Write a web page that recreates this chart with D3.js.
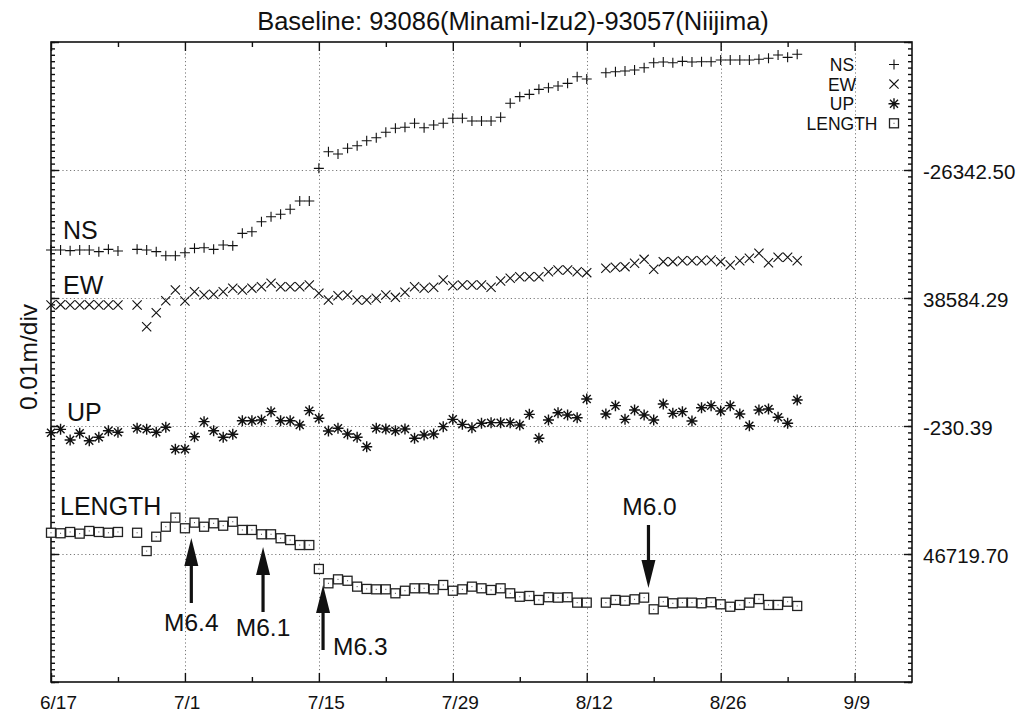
<!DOCTYPE html>
<html>
<head>
<meta charset="utf-8">
<script src="https://cdn.jsdelivr.net/npm/d3@7"></script>
<style>
  body { margin: 0; background: #fff; }
  svg { display: block; }
  text { font-family: "Liberation Sans", Arial, Helvetica, sans-serif; fill: #111; }
</style>
</head>
<body>
<svg id="chart" width="1032" height="717"></svg>
<script>
// Daily GPS solutions, 2000 (no solution on 6/25 and 8/13)
const dates = [
  "06-17","06-18","06-19","06-20","06-21","06-22","06-23","06-24",
  "06-26","06-27","06-28","06-29","06-30",
  "07-01","07-02","07-03","07-04","07-05","07-06","07-07","07-08","07-09","07-10",
  "07-11","07-12","07-13","07-14","07-15","07-16","07-17","07-18","07-19","07-20",
  "07-21","07-22","07-23","07-24","07-25","07-26","07-27","07-28","07-29","07-30","07-31",
  "08-01","08-02","08-03","08-04","08-05","08-06","08-07","08-08","08-09","08-10","08-11","08-12",
  "08-14","08-15","08-16","08-17","08-18","08-19","08-20","08-21","08-22","08-23","08-24","08-25",
  "08-26","08-27","08-28","08-29","08-30","08-31",
  "09-01","09-02","09-03"
];

// Deviations in mm from each component's reference value
const nsDev = [
  -6.25,-6.25,-6.30,-6.25,-6.25,-6.38,-6.20,-6.33,
  -6.20,-6.25,-6.38,-6.70,-6.70,
  -6.46,-6.12,-6.07,-6.20,-5.86,-5.91,-4.95,-4.82,-4.04,-3.65,
  -3.46,-3.07,-2.42,-2.42,0.13,1.43,1.25,1.70,1.90,2.29,
  2.52,2.95,3.26,3.34,3.65,3.30,3.52,3.65,4.04,4.04,3.83,
  3.83,3.83,4.12,5.21,5.73,5.91,6.30,6.43,6.56,6.77,7.29,7.11,
  7.60,7.68,7.73,7.81,7.99,8.38,8.44,8.38,8.49,8.44,8.46,8.46,
  8.59,8.59,8.59,8.59,8.65,8.73,
  8.98,8.80,9.04
];
const ewDev = [
  -0.55,-0.52,-0.55,-0.55,-0.52,-0.55,-0.55,-0.55,
  -0.55,-2.24,-1.15,-0.21,0.63,
  -0.23,0.49,0.23,0.29,0.49,0.76,0.63,0.76,0.88,1.15,
  0.88,0.88,0.88,1.02,0.37,-0.16,0.18,0.23,-0.16,-0.16,
  -0.02,0.23,0.05,0.45,0.88,0.76,0.84,1.41,0.96,1.02,1.02,
  1.02,0.84,1.33,1.54,1.66,1.66,1.66,2.05,2.19,2.19,2.05,1.98,
  2.32,2.40,2.45,2.71,3.02,2.24,2.84,2.84,2.91,2.91,2.91,2.97,
  2.84,2.58,2.91,3.10,3.49,2.76,
  3.18,3.18,2.91
];
const upDev = [
  -0.52,-0.26,-1.09,-0.57,-1.15,-0.88,-0.37,-0.49,
  -0.18,-0.26,-0.49,-0.10,-1.82,
  -1.82,-0.84,0.34,-0.37,-0.88,-0.65,0.41,0.41,0.47,1.12,
  0.41,0.41,0.08,1.20,0.60,-0.39,-0.18,-0.63,-0.88,-1.62,
  -0.18,-0.23,-0.37,-0.23,-0.96,-0.70,-0.63,-0.05,0.52,0.13,-0.13,
  0.21,0.26,0.26,0.26,0.08,0.91,-0.96,0.47,1.04,0.86,0.65,2.11,
  0.94,1.59,0.52,1.25,0.86,0.47,1.72,0.99,1.12,0.39,1.43,1.59,
  1.17,1.59,0.94,0.02,1.25,1.33,
  0.68,0.21,2.03
];
const lengthDev = [
  1.66,1.62,1.72,1.59,1.80,1.72,1.66,1.72,
  1.66,0.23,1.35,2.13,2.84,
  2.01,2.45,2.13,2.40,2.21,2.52,1.88,1.88,1.54,1.54,
  1.23,1.09,0.70,0.70,-1.17,-2.29,-1.98,-2.09,-2.55,-2.73,
  -2.76,-2.76,-3.07,-2.87,-2.68,-2.68,-2.76,-2.42,-2.87,-2.76,-2.55,
  -2.68,-2.81,-2.68,-3.07,-3.34,-3.28,-3.59,-3.38,-3.41,-3.38,-3.80,-3.80,
  -3.80,-3.59,-3.65,-3.54,-3.41,-4.32,-3.73,-3.85,-3.80,-3.80,-3.85,-3.77,
  -3.93,-4.12,-3.98,-3.80,-3.52,-3.98,
  -3.98,-3.73,-4.06
];

const seriesNames = ["NS", "EW", "UP", "LENGTH"];
const referenceLabels = ["-26342.50", "38584.29", "-230.39", "46719.70"];
const xTickLabels = ["6/17", "7/1", "7/15", "7/29", "8/12", "8/26", "9/9"];

// Earthquakes marked under the baseline-length record
const eventNames = ["M6.4", "M6.1", "M6.3", "M6.0"];
const eventTimes = ["2000-07-01T16:01", "2000-07-09T03:57", "2000-07-15T10:30", "2000-08-18T10:52"];

// ---------------------------------------------------------------
const svg = d3.select("#chart");
const L = 51, R = 912, T = 42, B = 682;
const ink = "#111";

const parseDay = d3.utcParse("%Y-%m-%d");
const parseTime = d3.utcParse("%Y-%m-%dT%H:%M");
const dayOf = s => parseDay("2000-" + s);

const x = d3.scaleUtc()
  .domain([parseDay("2000-06-17"), parseDay("2000-09-15")])
  .range([L, R]);

// vertical axis in mm, five 10 mm divisions; each series sits on its own division line
const y = d3.scaleLinear().domain([0, 50]).range([B, T]);
const baseLevel = { NS: 40, EW: 30, UP: 20, LENGTH: 10 };
const seriesDev = { NS: nsDev, EW: ewDev, UP: upDev, LENGTH: lengthDev };

const majorDates = xTickLabels.map(s => {
  const [m, d] = s.split("/").map(Number);
  return new Date(Date.UTC(2000, m - 1, d));
});
const minorDates = majorDates.map(d => d3.utcDay.offset(d, 7)).filter(d => d < x.domain()[1]);

// ---- grid ----
const grid = svg.append("g").attr("stroke", "#7a7a7a").attr("stroke-width", 1)
  .attr("stroke-dasharray", "1.2,2.6");
grid.selectAll("line.gx").data(majorDates.slice(1))
  .join("line").attr("class", "gx")
  .attr("x1", d => Math.round(x(d)) + 0.5).attr("x2", d => Math.round(x(d)) + 0.5)
  .attr("y1", T).attr("y2", B);
grid.selectAll("line.gy").data(seriesNames)
  .join("line").attr("class", "gy")
  .attr("x1", L).attr("x2", R)
  .attr("y1", d => Math.round(y(baseLevel[d])) + 0.5)
  .attr("y2", d => Math.round(y(baseLevel[d])) + 0.5);

// ---- axes (ticks point inward) ----
function styleAxis(g) {
  g.select(".domain").remove();
  g.selectAll(".tick line").attr("stroke", ink).attr("stroke-width", 1.4);
}
const minorY = d3.range(0, 50.001, 0.5);
const majorY = d3.range(0, 50.001, 10);

svg.append("g").attr("transform", `translate(${L},0)`)
  .call(d3.axisLeft(y).tickValues(minorY).tickSize(-4).tickFormat(""))
  .call(styleAxis);
svg.append("g").attr("transform", `translate(${L},0)`)
  .call(d3.axisLeft(y).tickValues(majorY).tickSize(-8).tickFormat(""))
  .call(styleAxis);
svg.append("g").attr("transform", `translate(${R},0)`)
  .call(d3.axisRight(y).tickValues(minorY).tickSize(-4).tickFormat(""))
  .call(styleAxis);
svg.append("g").attr("transform", `translate(${R},0)`)
  .call(d3.axisRight(y).tickValues(majorY).tickSize(-8).tickFormat(""))
  .call(styleAxis);

// right-hand reference values on each division line
svg.append("g").selectAll("text").data(seriesNames)
  .join("text")
  .attr("x", 923)
  .attr("y", d => y(baseLevel[d]) + 9)
  .attr("font-size", 20.5)
  .text((d, i) => referenceLabels[i]);

const gxb = svg.append("g").attr("transform", `translate(0,${B})`)
  .call(d3.axisBottom(x).tickValues(majorDates).tickSize(-9)
    .tickFormat((d, i) => xTickLabels[i]))
  .call(styleAxis);
gxb.selectAll(".tick text")
  .attr("y", 27).attr("dy", 0).attr("dx", -11.5)
  .attr("text-anchor", "start").attr("font-size", 19).attr("fill", ink)
  .attr("font-family", null);
svg.append("g").attr("transform", `translate(0,${B})`)
  .call(d3.axisBottom(x).tickValues(minorDates).tickSize(-5).tickFormat(""))
  .call(styleAxis);
svg.append("g").attr("transform", `translate(0,${T})`)
  .call(d3.axisTop(x).tickValues(majorDates).tickSize(-9).tickFormat(""))
  .call(styleAxis);
svg.append("g").attr("transform", `translate(0,${T})`)
  .call(d3.axisTop(x).tickValues(minorDates).tickSize(-5).tickFormat(""))
  .call(styleAxis);

// frame
svg.append("rect").attr("x", L).attr("y", T).attr("width", R - L).attr("height", B - T)
  .attr("fill", "none").attr("stroke", ink).attr("stroke-width", 1.6);

// ---- point symbols ----
const symbolPath = {
  NS: "M-5,0H5M0,-5V5",
  EW: "M-4.6,-4.6L4.6,4.6M-4.6,4.6L4.6,-4.6",
  UP: "M-5.5,0H5.5M0,-5.5V5.5M-4,-4L4,4M-4,4L4,-4"
};
function drawSymbol(sel, name) {
  if (name === "LENGTH") {
    sel.append("rect").attr("x", -4.5).attr("y", -4.5).attr("width", 9).attr("height", 9)
      .attr("fill", "#fff").attr("stroke", "#222").attr("stroke-width", 1.3);
    sel.append("rect").attr("x", -0.5).attr("y", -0.5).attr("width", 1).attr("height", 1)
      .attr("fill", "#444");
  } else {
    sel.append("path").attr("d", symbolPath[name]).attr("fill", "none")
      .attr("stroke", ink).attr("stroke-width", name === "UP" ? 1.4 : 1.1);
  }
}

const plot = svg.append("g");
seriesNames.forEach(name => {
  const pts = dates.map((s, i) => ({ t: dayOf(s), v: baseLevel[name] + seriesDev[name][i] }));
  plot.append("g").selectAll("g").data(pts).join("g")
    .attr("transform", d => `translate(${x(d.t)},${y(d.v)})`)
    .each(function () { drawSymbol(d3.select(this), name); });
});

// ---- series labels ----
const seriesLabelPos = { NS: [63, 239], EW: [63, 294], UP: [67, 421], LENGTH: [60, 515] };
svg.append("g").selectAll("text").data(seriesNames).join("text")
  .attr("x", d => seriesLabelPos[d][0]).attr("y", d => seriesLabelPos[d][1])
  .attr("font-size", 25).text(d => d);

// ---- legend ----
const legend = svg.append("g");
seriesNames.forEach((name, i) => {
  const yy = 64.5 + i * 19.6;
  legend.append("text").attr("x", 842).attr("y", yy + 6.5)
    .attr("text-anchor", "middle").attr("font-size", 17.5).text(name);
  const g = legend.append("g").attr("transform", `translate(894,${yy})`);
  drawSymbol(g, name);
});

// ---- earthquake arrows ----
function arrow(xp, yTail, yTip) {
  const dir = Math.sign(yTip - yTail);
  const head = 28, half = 7;
  svg.append("line").attr("x1", xp).attr("x2", xp)
    .attr("y1", yTail).attr("y2", yTip - dir * head)
    .attr("stroke", ink).attr("stroke-width", 3.2);
  svg.append("path")
    .attr("d", `M${xp},${yTip}L${xp - half},${yTip - dir * head}L${xp + half},${yTip - dir * head}Z`)
    .attr("fill", ink);
}
const eventLayout = [
  { tail: 603, tip: 538, lx: 0, ly: 631, anchor: "middle" },
  { tail: 612, tip: 547, lx: 0, ly: 636, anchor: "middle" },
  { tail: 650, tip: 585, lx: 10, ly: 655, anchor: "start" },
  { tail: 525, tip: 588, lx: 1, ly: 515, anchor: "middle" }
];
eventNames.forEach((name, i) => {
  const xp = x(parseTime(eventTimes[i]));
  const lay = eventLayout[i];
  arrow(xp, lay.tail, lay.tip);
  svg.append("text").attr("x", xp + lay.lx).attr("y", lay.ly)
    .attr("text-anchor", lay.anchor).attr("font-size", 24.5).text(name);
});

// ---- titles ----
svg.append("text").attr("x", 513).attr("y", 30).attr("text-anchor", "middle")
  .attr("font-size", 25.5).text("Baseline: 93086(Minami-Izu2)-93057(Niijima)");
svg.append("text").attr("transform", "translate(37,357) rotate(-90)")
  .attr("text-anchor", "middle").attr("font-size", 24.5).text("0.01m/div");
</script>
</body>
</html>
